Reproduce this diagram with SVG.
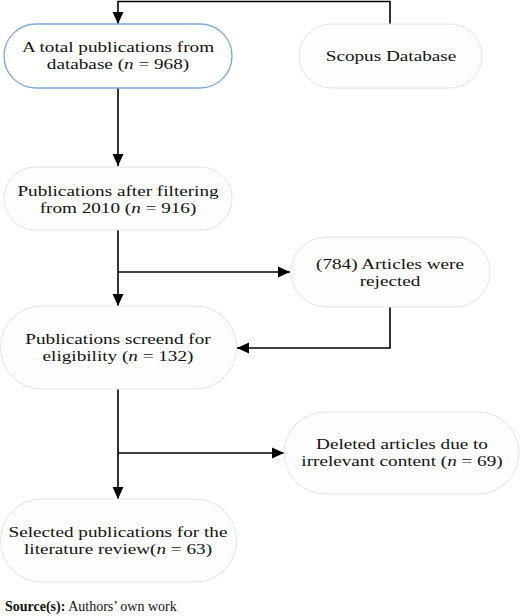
<svg xmlns="http://www.w3.org/2000/svg" width="520" height="616" viewBox="0 0 520 616">
<style>
.node{fill:#fdfdfd;stroke:#e4e4e4;stroke-width:1}
.blue{fill:#ffffff;stroke:#7fa7d6;stroke-width:1.3}
.t{font-family:"Liberation Serif","Times New Roman",serif;font-size:14px;fill:#111;text-anchor:middle}
.i{font-style:italic}
.c{fill:none;stroke:#000;stroke-width:1.6}
.src{font-family:"Liberation Serif","Times New Roman",serif;font-size:14px;fill:#111}
</style>
<defs>
<marker id="ah" markerUnits="userSpaceOnUse" markerWidth="12" markerHeight="12" refX="11" refY="5" orient="auto" viewBox="0 0 11 10">
<path d="M0,0 L11,5 L0,10 z" fill="#000"/>
</marker>
</defs>
<rect width="520" height="616" fill="#fff"/>
<g id="connectors">
<path class="c" d="M390,24 V1.5 H118 V24" marker-end="url(#ah)"/>
<path class="c" d="M118,88 V166" marker-end="url(#ah)"/>
<path class="c" d="M118,230 V306" marker-end="url(#ah)"/>
<path class="c" d="M118,272 H290" marker-end="url(#ah)"/>
<path class="c" d="M390,307 V348 H237" marker-end="url(#ah)"/>
<path class="c" d="M118,389 V499" marker-end="url(#ah)"/>
<path class="c" d="M118,453 H284" marker-end="url(#ah)"/>
</g>
<g id="n1">
<rect class="blue" x="4" y="24" width="228" height="64" rx="32" ry="32"/>
<text class="t" transform="translate(118 0) scale(1.37 1)"><tspan x="0" y="52.5">A total publications from</tspan><tspan x="0" y="69">database (<tspan class="i">n</tspan> = 968)</tspan></text>
</g>
<g id="n2">
<rect class="node" x="299" y="24" width="183" height="64" rx="32" ry="32"/>
<text class="t" transform="translate(391 0) scale(1.37 1)" x="0" y="61.5">Scopus Database</text>
</g>
<g id="n3">
<rect class="node" x="4" y="167" width="228" height="63" rx="31" ry="31"/>
<text class="t" transform="translate(118 0) scale(1.37 1)"><tspan x="0" y="196.5">Publications after filtering</tspan><tspan x="0" y="213">from 2010 (<tspan class="i">n</tspan> = 916)</tspan></text>
</g>
<g id="n4">
<rect class="node" x="291" y="237" width="199" height="70" rx="35" ry="35"/>
<text class="t" transform="translate(390 0) scale(1.37 1)"><tspan x="0" y="269.5">(784) Articles were</tspan><tspan x="0" y="286">rejected</tspan></text>
</g>
<g id="n5">
<rect class="node" x="0.5" y="306" width="236" height="83" rx="41" ry="41"/>
<text class="t" transform="translate(118 0) scale(1.37 1)"><tspan x="0" y="344.5">Publications screend for</tspan><tspan x="0" y="361">eligibility (<tspan class="i">n</tspan> = 132)</tspan></text>
</g>
<g id="n6">
<rect class="node" x="284" y="412" width="235" height="82" rx="41" ry="41"/>
<text class="t" transform="translate(402 0) scale(1.37 1)"><tspan x="0" y="449.5">Deleted articles due to</tspan><tspan x="0" y="466">irrelevant content (<tspan class="i">n</tspan> = 69)</tspan></text>
</g>
<g id="n7">
<rect class="node" x="0.5" y="499" width="236" height="83" rx="41" ry="41"/>
<text class="t" transform="translate(118 0) scale(1.37 1)"><tspan x="0" y="537.5">Selected publications for the</tspan><tspan x="0" y="554">literature review(<tspan class="i">n</tspan> = 63)</tspan></text>
</g>
<text class="src" x="5" y="611"><tspan font-weight="bold">Source(s):</tspan> Authors’ own work</text>
</svg>
